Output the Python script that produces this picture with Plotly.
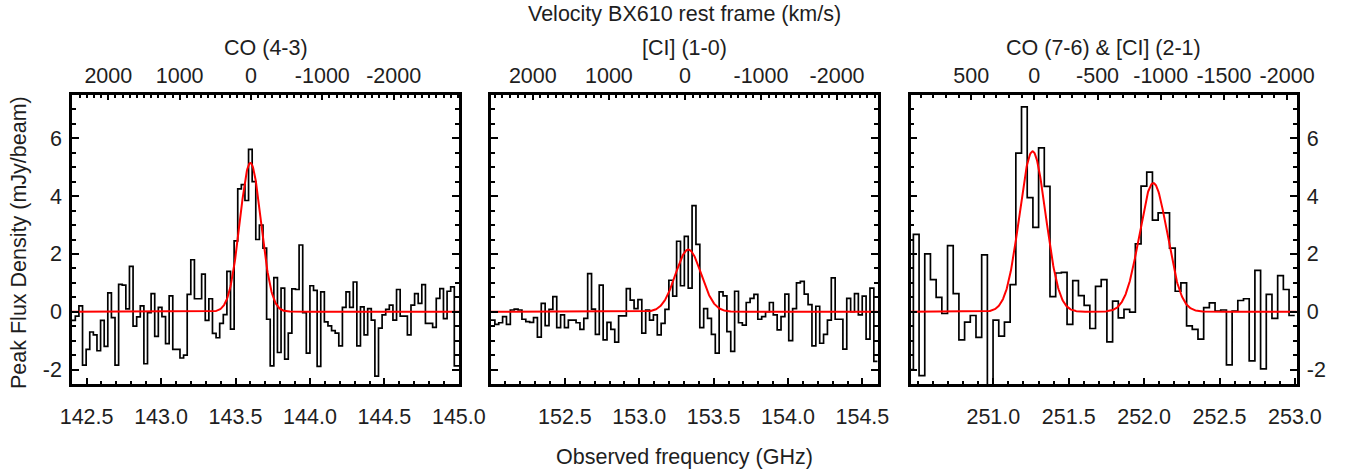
import numpy as np
import plotly.graph_objects as go

C_KMS = 299792.458
W, H = 1347, 472
FONT = "Liberation Sans, Arial, Helvetica, sans-serif"
INK = "#1e1e1e"
FS = 21.5

# CO (4-3): 108 channels, lower edge of first channel and channel width in GHz
co43_nu_start, co43_dnu = 142.400, 0.02424
co43_flux = [
    -0.30, -0.15, 0.20, -1.85, -1.30, -0.70, -0.80, -1.35, -0.30, -1.20,
    0.65, -0.20, -1.85, 0.95, 0.92, 0.10, 1.57, -0.50, -0.18, 0.20,
    -1.80, -0.03, 0.63, -0.85, 0.15, -0.17, -1.10, 0.55, -1.30, -1.30,
    -1.60, -1.50, 0.60, 1.80, 0.45, 0.45, 1.30, -0.30, 0.45, -0.75,
    -0.90, -0.40, -0.10, 1.40, -0.60, 2.45, 4.25, 4.40, 3.85, 5.62,
    4.50, 2.50, 3.00, 2.20, -0.26, -1.87, 1.18, -1.41, 0.82, -1.64,
    -0.74, 0.79, 0.77, 2.31, -0.03, -1.43, 0.90, 0.74, -1.89, 0.69,
    -0.35, -0.49, -0.65, -0.74, -1.18, 0.15, 0.69, 0.15, 1.03, -1.18,
    0.17, -0.80, 0.11, -0.29, -2.23, -0.57, -0.11, 0.08, 0.23, -0.29,
    0.77, -0.15, -0.15, -0.80, 0.23, 0.63, 0.29, 0.94, -0.40, -0.40,
    -0.54, 0.46, 0.80, -0.24, 0.71, 0.86, -1.87, -1.87,
]
co43_fit_amp = [5.15]
co43_fit_nu = [143.600]
co43_fit_sigma = [0.071]
co43_nu_zero = 143.604
co43_range = [142.402, 145.001]
co43_freq_ticks = [142.5, 143.0, 143.5, 144.0, 144.5, 145.0]
co43_vel_ticks = [2000, 1000, 0, -1000, -2000]

# [CI] (1-0): 100 channels
ci10_nu_start, ci10_dnu = 152.003, 0.0260
ci10_flux = [
    -0.29, -0.44, -0.38, -0.17, -0.44, 0.06, 0.09, 0.06, -0.26, -0.34,
    -0.37, -0.20, -0.88, 0.29, -0.48, 0.08, 0.52, -0.55, -0.11, -0.55,
    -0.29, -0.29, -0.38, -0.61, -0.23, 1.32, 0.09, -0.78, 0.92, -0.97,
    -0.37, -0.61, -1.05, -0.14, -0.14, 0.80, 0.40, 0.11, 0.42, -0.74,
    0.06, -0.29, -0.11, -0.80, -0.40, 0.08, 1.09, 0.54, 2.44, 0.90,
    2.61, 0.82, 3.67, 2.33, -0.55, 0.11, -0.23, -0.78, -1.43, 0.69,
    0.55, -0.69, -1.37, 0.71, -0.38, -0.46, 0.32, 0.46, 0.60, -0.26,
    -0.17, 0.00, 0.32, -0.11, -0.63, -0.17, 0.61, -1.00, 0.11, 1.00,
    1.05, 0.61, 0.25, -1.18, 0.19, -1.09, -0.78, -0.29, 1.17, -0.26,
    -0.26, -1.29, 0.46, 0.00, 0.63, -0.11, 0.54, -0.95, 0.82, -1.72,
]
ci10_fit_amp = [2.15]
ci10_fit_nu = [153.330]
ci10_fit_sigma = [0.086]
ci10_nu_zero = 153.307
ci10_range = [152.003, 154.603]
ci10_freq_ticks = [152.5, 153.0, 153.5, 154.0, 154.5]
ci10_vel_ticks = [2000, 1000, 0, -1000, -2000]

# CO (7-6) & [CI] (2-1): 68 channels
co76_nu_start, co76_dnu = 250.432, 0.03775
co76_flux = [
    -2.00, 2.68, -2.21, 2.00, 1.11, 0.50, -0.06, 2.29, 0.63, -0.97,
    -0.36, -0.13, -0.89, 1.97, -3.00, -0.29, -0.84, -0.36, 0.94, 5.49,
    7.09, 3.95, 2.92, 5.67, 4.34, 0.52, 1.34, 1.36, -0.44, 1.08,
    0.56, 0.22, -0.58, 0.88, 1.11, -1.04, 0.37, -0.21, 0.08, -0.01,
    2.35, 4.35, 4.83, 3.17, 3.42, 3.42, 2.20, 0.71, 1.00, -0.49,
    -0.61, -0.95, 0.14, 0.31, 0.02, 0.06, -1.84, 0.02, 0.39, 0.45,
    -1.70, 1.43, -1.98, 0.60, -0.23, 1.25, 0.77, -0.13,
]
co76_fit_amp = [5.55, 4.45]
co76_fit_nu = [251.260, 252.061]
co76_fit_sigma = [0.087, 0.092]
co76_nu_zero = 251.272
co76_range = [250.452, 253.012]
co76_freq_ticks = [251.0, 251.5, 252.0, 252.5, 253.0]
co76_vel_ticks = [500, 0, -500, -1000, -1500, -2000]

flux_ticks = [-2, 0, 2, 4, 6]
flux_range = [-2.5, 7.5]

panels = [
    dict(title="CO (4-3)", start=co43_nu_start, dnu=co43_dnu, flux=co43_flux,
         amp=co43_fit_amp, nu=co43_fit_nu, sigma=co43_fit_sigma, nu0=co43_nu_zero,
         xr=co43_range, fticks=co43_freq_ticks, vticks=co43_vel_ticks,
         px=(72, 459), ylabels="left"),
    dict(title="[CI] (1-0)", start=ci10_nu_start, dnu=ci10_dnu, flux=ci10_flux,
         amp=ci10_fit_amp, nu=ci10_fit_nu, sigma=ci10_fit_sigma, nu0=ci10_nu_zero,
         xr=ci10_range, fticks=ci10_freq_ticks, vticks=ci10_vel_ticks,
         px=(491, 877.7), ylabels=None),
    dict(title="CO (7-6) & [CI] (2-1)", start=co76_nu_start, dnu=co76_dnu, flux=co76_flux,
         amp=co76_fit_amp, nu=co76_fit_nu, sigma=co76_fit_sigma, nu0=co76_nu_zero,
         xr=co76_range, fticks=co76_freq_ticks, vticks=co76_vel_ticks,
         px=(910.7, 1296.7), ylabels="right"),
]

Y_TOP, Y_BOT = 95, 384
y_dom = [1 - Y_BOT / H, 1 - Y_TOP / H]

fig = go.Figure()
layout = dict(
    width=W, height=H,
    margin=dict(l=0, r=0, t=0, b=0, autoexpand=False),
    paper_bgcolor="white", plot_bgcolor="white",
    showlegend=False,
    font=dict(family=FONT, size=FS, color=INK),
)
annotations = []

for i, p in enumerate(panels, start=1):
    top = i + 3
    xa, ya, xt = f"x{i}", f"y{i}", f"x{top}"
    n = len(p["flux"])
    edges = p["start"] + p["dnu"] * np.arange(n + 1)
    steps = list(p["flux"]) + [p["flux"][-1]]
    fig.add_trace(go.Scatter(
        x=edges, y=steps, mode="lines", line_shape="hv",
        line=dict(color="black", width=1.7), xaxis=xa, yaxis=ya, hoverinfo="skip",
    ))

    nu_grid = np.linspace(p["xr"][0], p["xr"][1], 800)
    model = np.zeros_like(nu_grid)
    for a, c, s in zip(p["amp"], p["nu"], p["sigma"]):
        model += a * np.exp(-0.5 * ((nu_grid - c) / s) ** 2)
    fig.add_trace(go.Scatter(
        x=nu_grid, y=model, mode="lines",
        line=dict(color="#ff0000", width=2), xaxis=xa, yaxis=ya, hoverinfo="skip",
    ))

    # velocity relative to the line, for the top axis
    v_range = [C_KMS * (p["nu0"] - f) / p["nu0"] for f in p["xr"]]
    fig.add_trace(go.Scatter(
        x=v_range, y=[None, None], mode="lines", xaxis=xt, yaxis=ya,
        hoverinfo="skip",
    ))

    dom = [p["px"][0] / W, p["px"][1] / W]
    sfx = "" if i == 1 else str(i)
    layout[f"xaxis{sfx}"] = dict(
        domain=dom, anchor=ya, range=p["xr"], automargin=False,
        tickmode="array", tickvals=p["fticks"],
        ticktext=[f"{t:.1f}" for t in p["fticks"]],
        ticks="inside", ticklen=6, tickwidth=2, tickcolor="black",
        minor=dict(tickmode="linear", dtick=0.1, tick0=0, ticks="inside",
                   ticklen=3, tickwidth=1.5, tickcolor="black", showgrid=False),
        showline=True, linewidth=2.5, linecolor="black", mirror=True,
        showgrid=False, zeroline=False, ticklabelstandoff=11,
        tickfont=dict(size=FS, color=INK),
    )
    layout[f"xaxis{top}"] = dict(
        overlaying=xa, anchor=ya, side="top", range=v_range, automargin=False,
        tickmode="array", tickvals=p["vticks"],
        ticktext=[str(v) for v in p["vticks"]],
        ticks="inside", ticklen=5, tickwidth=2, tickcolor="black",
        minor=dict(tickmode="linear", dtick=100, tick0=0, ticks="inside",
                   ticklen=2.5, tickwidth=1.5, tickcolor="black", showgrid=False),
        showline=False, showgrid=False, zeroline=False, ticklabelstandoff=7,
        tickfont=dict(size=FS, color=INK),
    )
    layout[f"yaxis{sfx}"] = dict(
        domain=y_dom, anchor=xa, range=flux_range, automargin=False,
        tickmode="array", tickvals=flux_ticks,
        ticktext=[str(t) for t in flux_ticks],
        ticks="inside", ticklen=7, tickwidth=2, tickcolor="black",
        minor=dict(tickmode="linear", dtick=0.5, tick0=0, ticks="inside",
                   ticklen=4, tickwidth=1.5, tickcolor="black", showgrid=False),
        showline=True, linewidth=2.5, linecolor="black", mirror="ticks",
        showgrid=False, zeroline=False,
        showticklabels=p["ylabels"] is not None,
        side=p["ylabels"] or "left", ticklabelstandoff=3,
        tickfont=dict(size=FS, color=INK),
    )

    annotations.append(dict(
        text=p["title"], xref="paper", yref="paper",
        x=sum(dom) / 2, y=1 - 48 / H, xanchor="center", yanchor="middle",
        showarrow=False, font=dict(size=FS, color=INK),
    ))

mid = sum(panels[1]["px"]) / 2 / W
annotations += [
    dict(text="Velocity BX610 rest frame (km/s)", xref="paper", yref="paper",
         x=mid, y=1 - 14 / H, xanchor="center", yanchor="middle",
         showarrow=False, font=dict(size=FS, color=INK)),
    dict(text="Observed frequency (GHz)", xref="paper", yref="paper",
         x=mid, y=1 - 457 / H, xanchor="center", yanchor="middle",
         showarrow=False, font=dict(size=FS, color=INK)),
    dict(text="Peak Flux Density (mJy/beam)", xref="paper", yref="paper",
         x=19 / W, y=1 - 243 / H, xanchor="center", yanchor="middle",
         textangle=-90, showarrow=False, font=dict(size=FS, color=INK)),
]
layout["annotations"] = annotations

fig.update_layout(**layout)
# drop the page's default body margin so the figure sits at the window corner
fig.write_html("out.html", config={"displayModeBar": False},
               post_script="document.body.style.margin = '0';")
